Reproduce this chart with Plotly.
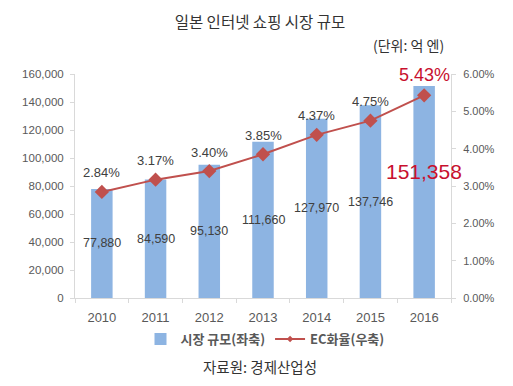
import plotly.graph_objects as go

years = [2010, 2011, 2012, 2013, 2014, 2015, 2016]
market_size = [77880, 84590, 95130, 111660, 127970, 137746, 151358]
ec_rate = [2.84, 3.17, 3.40, 3.85, 4.37, 4.75, 5.43]
left_ticks = [0, 20000, 40000, 60000, 80000, 100000, 120000, 140000, 160000]
right_ticks = [0, 1, 2, 3, 4, 5, 6]

BAR = "#8DB4E2"
LINE = "#C0504D"
RED = "#C8102E"
TXT = "#404040"
AX = "#595959"
FONT = "Noto Sans CJK KR, Liberation Sans, Arial"
NUMFONT = "Liberation Sans, Arial"

# page body has an 8px margin: build the figure so the plot lands at the screen positions wanted
O = 8
W, H = 513 - O, 386 - O
PX0, PX1, PY0, PY1 = 75, 451, 74, 298          # plot area, screen pixels
L, T = PX0 - O, PY0 - O
R, B = W - (PX1 - O), H - (PY1 - O)
pw, ph = PX1 - PX0, PY1 - PY0


def px(sx):
    return (sx - PX0) / pw


def py(sy):
    return (PY1 - sy) / ph


fig = go.Figure()
fig.add_trace(go.Bar(
    x=years, y=market_size, name="시장 규모(좌축)",
    marker=dict(color=BAR, line=dict(width=0)), width=0.4,
    yaxis="y"
))
fig.add_trace(go.Scatter(
    x=years, y=ec_rate, name="EC화율(우축)", yaxis="y2",
    mode="lines+markers",
    line=dict(color=LINE, width=2),
    marker=dict(symbol="diamond", size=11, color=LINE),
    showlegend=False, cliponaxis=False,
))
# legend-only entry with a small marker, as in the reference legend
fig.add_trace(go.Scatter(
    x=[None], y=[None], name="EC화율(우축)", yaxis="y2",
    mode="lines+markers",
    line=dict(color=LINE, width=2),
    marker=dict(symbol="diamond", size=5, color=LINE),
))

annotations = []
for i, (yr, r) in enumerate(zip(years, ec_rate)):
    last = i == len(years) - 1
    annotations.append(dict(x=yr, y=r, xref="x", yref="y2", text=f"{r:.2f}%", yshift=20 if last else 19,
                            showarrow=False, xanchor="center", yanchor="middle",
                            font=dict(size=18 if last else 13, color=RED if last else TXT, family=NUMFONT)))
for i, (yr, v) in enumerate(zip(years, market_size)):
    if i < len(years) - 1:
        annotations.append(dict(x=yr, y=v / 2, xref="x", yref="y", text=f"{v:,}",
                                showarrow=False, xanchor="center", yanchor="middle",
                                font=dict(size=12.5, color=TXT, family=NUMFONT)))
    else:
        annotations.append(dict(x=yr, y=v * 0.595, xref="x", yref="y", text=f"{v:,}",
                                showarrow=False, xanchor="center", yanchor="middle",
                                font=dict(size=21, color=RED, family=NUMFONT)))

annotations.append(dict(x=px(408), y=py(45), xref="paper", yref="paper", text="(단위: 억 엔)",
                        xanchor="center", yanchor="middle",
                        showarrow=False, font=dict(size=14, color="#333333", family=FONT)))
annotations.append(dict(x=px(260), y=py(366), xref="paper", yref="paper", text="자료원: 경제산업성",
                        xanchor="center", yanchor="middle",
                        showarrow=False, font=dict(size=14.5, color="#333333", family=FONT)))

boundaries = [y - 0.5 for y in years] + [years[-1] + 0.5]

fig.update_layout(
    width=W, height=H,
    margin=dict(l=L, r=R, t=T, b=B, autoexpand=False),
    paper_bgcolor="white", plot_bgcolor="white",
    font=dict(family=FONT, color=AX),
    title=dict(text="일본 인터넷 쇼핑 시장 규모", x=(260 - O) / W, xanchor="center",
               y=1 - (23 - O) / H, yanchor="middle",
               xref="container", yref="container",
               font=dict(size=15.5, color="#333333", family=FONT)),
    xaxis=dict(type="linear", range=[years[0] - 0.5, years[-1] + 0.5], automargin=False,
               tickvals=years, ticktext=[str(y) for y in years], ticks="", ticklabelstandoff=7,
               showgrid=False, showline=True, linecolor="#D9D9D9", zeroline=False,
               minor=dict(tickvals=boundaries, ticks="outside", ticklen=4, tickcolor="#D9D9D9", showgrid=False),
               tickfont=dict(size=13, color=AX, family=NUMFONT)),
    yaxis=dict(range=[0, 160000], tickvals=left_ticks, ticktext=[f"{t:,}" for t in left_ticks],
               automargin=False, showgrid=False, showline=True, linecolor="#D9D9D9", ticks="outside",
               tickcolor="#D9D9D9", ticklen=4, ticklabelstandoff=4,
               tickfont=dict(size=11.5, color=AX, family=NUMFONT), zeroline=False),
    yaxis2=dict(range=[0, 6], tickvals=right_ticks, ticktext=[f"{t:.2f}%" for t in right_ticks],
                automargin=False, overlaying="y", side="right", showgrid=False, showline=True,
                linecolor="#D9D9D9", ticks="outside", tickcolor="#D9D9D9", ticklen=4, zeroline=False,
                ticklabelstandoff=5,
                tickfont=dict(size=11, color=AX, family=NUMFONT)),
    legend=dict(orientation="h", x=px(265), xanchor="center", y=py(339), yanchor="middle",
                font=dict(size=13, color=AX, family=FONT, weight="bold"), bgcolor="rgba(0,0,0,0)"),
    annotations=annotations,
    showlegend=True,
)

fig.write_html("out.html")
